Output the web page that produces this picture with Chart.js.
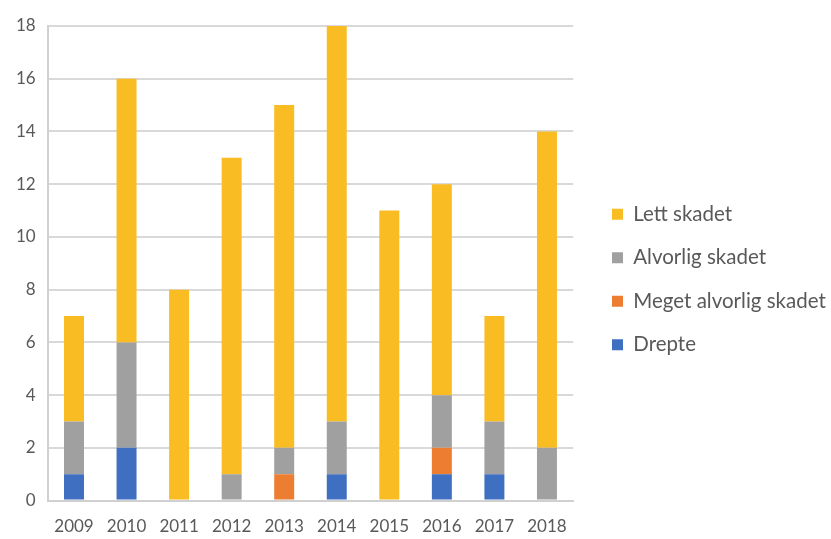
<!DOCTYPE html>
<html>
<head>
<meta charset="utf-8">
<script src="https://cdn.jsdelivr.net/npm/chart.js@4"></script>
<style>
  html, body { margin: 0; padding: 0; background: #fff; }
  #wrap { width: 831px; height: 539px; }
</style>
</head>
<body>
<div id="wrap"><canvas id="chart"></canvas></div>
<script>
const years = ["2009", "2010", "2011", "2012", "2013", "2014", "2015", "2016", "2017", "2018"];
const drepte = [1, 2, 0, 0, 0, 1, 0, 1, 1, 0];
const megetAlvorlig = [0, 0, 0, 0, 1, 0, 0, 1, 0, 0];
const alvorlig = [2, 4, 0, 1, 1, 2, 0, 2, 2, 2];
const lett = [4, 10, 8, 12, 13, 15, 11, 8, 4, 12];
const yTicks = [0, 2, 4, 6, 8, 10, 12, 14, 16, 18];

const FONT = "Lato, 'Open Sans', sans-serif";
const LEGEND_LEFT = 589;
const LEGEND_LIFT = 10;

function makeSet(label, data, color) {
  return {
    label: label,
    data: data,
    backgroundColor: color,
    borderWidth: 0,
    barPercentage: 0.38,
    categoryPercentage: 1.0,
  };
}

// move the legend box a bit right of the plot, like the original
const legendShift = {
  id: "legendShift",
  afterLayout(chart) {
    const lg = chart.legend;
    if (!lg) return;
    const dx = LEGEND_LEFT - lg.left;
    lg.left += dx;
    lg.right += dx;
    lg.top -= LEGEND_LIFT;
    lg.bottom -= LEGEND_LIFT;
  },
};

new Chart(document.getElementById("chart").getContext("2d"), {
  type: "bar",
  data: {
    labels: years,
    datasets: [
      makeSet("Drepte", drepte, "#3F6FC0"),
      makeSet("Meget alvorlig skadet", megetAlvorlig, "#ED7D31"),
      makeSet("Alvorlig skadet", alvorlig, "#A0A0A0"),
      makeSet("Lett skadet", lett, "#F9BC22"),
    ],
  },
  plugins: [legendShift],
  options: {
    responsive: true,
    maintainAspectRatio: false,
    animation: false,
    layout: {
      padding: { top: 26, right: 11, bottom: -14, left: 4 },
    },
    scales: {
      x: {
        stacked: true,
        grid: { display: false, drawTicks: false },
        border: { color: "#D0D0D0", width: 2 },
        ticks: {
          color: "#595959",
          font: { family: FONT, size: 17 },
          maxRotation: 0,
          padding: 16,
        },
      },
      y: {
        stacked: true,
        min: 0,
        max: 18,
        afterBuildTicks: (axis) => {
          axis.ticks = yTicks.map((v) => ({ value: v }));
        },
        grid: { color: "#D9D9D9", lineWidth: 2, drawTicks: false },
        border: { color: "#D0D0D0", width: 2 },
        ticks: {
          color: "#595959",
          font: { family: FONT, size: 17 },
          padding: 12,
        },
      },
    },
    plugins: {
      legend: {
        position: "right",
        reverse: true,
        maxWidth: 320,
        labels: {
          boxWidth: 11,
          boxHeight: 11,
          padding: 23,
          color: "#595959",
          font: { family: FONT, size: 20.5 },
        },
      },
      tooltip: { enabled: false },
    },
  },
});
</script>
</body>
</html>
